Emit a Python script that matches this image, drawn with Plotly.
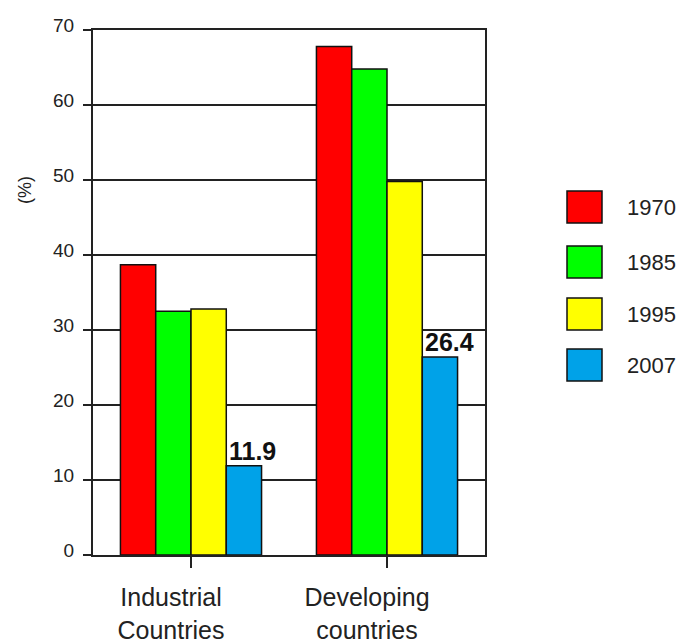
import plotly.graph_objects as go

# Share of population (%) by country group and year
categories = ["Industrial<br>Countries", "Developing<br>countries"]
years = ["1970", "1985", "1995", "2007"]
values_1970 = [38.7, 67.8]
values_1985 = [32.5, 64.8]
values_1995 = [32.8, 49.8]
values_2007 = [11.9, 26.4]
series = [values_1970, values_1985, values_1995, values_2007]
colors = ["#ff0000", "#00ff00", "#ffff00", "#00a2e8"]
y_ticks = [0, 10, 20, 30, 40, 50, 60, 70]
labelled_year = "2007"

W, H = 683, 644
L, R, T, B = 93, 485, 30, 555          # plot area in pixels
BARGAP = 0.28
FONT = "Liberation Sans, Arial, sans-serif"
INK = "#222222"


def px_x(px):
    return (px - L) / (R - L)


def px_y(py):
    return (B - py) / (B - T)


fig = go.Figure()
for name, vals, col in zip(years, series, colors):
    fig.add_trace(go.Bar(
        x=list(range(len(categories))), y=vals, name=name,
        marker=dict(color=col, line=dict(color="#111111", width=1.5)),
        showlegend=False,
    ))

# value labels above the last series' bars, left-aligned on the bar
bar_w = (1 - BARGAP) / len(years)
k = years.index(labelled_year)
for i, v in enumerate(series[k]):
    left = i - (1 - BARGAP) / 2 + k * bar_w
    fig.add_annotation(
        x=left, y=v, text=f"<b>{v}</b>", showarrow=False,
        xanchor="left", yanchor="bottom", xshift=1, yshift=-1,
        font=dict(family=FONT, size=25, color="#111111"),
    )

# legend: large outlined squares with year labels
legend_rows = [207, 262, 314, 365]
for name, col, cy in zip(years, colors, legend_rows):
    fig.add_shape(
        type="rect", xref="paper", yref="paper",
        x0=px_x(567), x1=px_x(602), y0=px_y(cy + 16), y1=px_y(cy - 16),
        fillcolor=col, line=dict(color="#111111", width=1.5),
    )
    fig.add_annotation(
        xref="paper", yref="paper", x=px_x(625), y=px_y(cy),
        text=name, showarrow=False, xanchor="left", yanchor="middle",
        font=dict(family=FONT, size=22, color=INK),
    )

# y axis title
fig.add_annotation(
    xref="paper", yref="paper", x=px_x(25), y=px_y(190),
    text="(%)", showarrow=False, textangle=-90,
    xanchor="center", yanchor="middle",
    font=dict(family=FONT, size=18, color=INK),
)

fig.update_layout(
    width=W, height=H,
    margin=dict(l=L, r=W - R, t=T, b=H - B, pad=0, autoexpand=False),
    paper_bgcolor="white", plot_bgcolor="white",
    barmode="group", bargap=BARGAP, bargroupgap=0,
    showlegend=False,
    font=dict(family=FONT, color=INK),
)
fig.update_xaxes(
    tickmode="array", tickvals=list(range(len(categories))), ticktext=categories,
    range=[-0.5, len(categories) - 0.5], tickson="boundaries",
    showline=True, linecolor="#222222", linewidth=2, mirror=True,
    ticks="outside", ticklen=11, tickwidth=2, tickcolor="#222222",
    showgrid=False, zeroline=False, automargin=False,
    tickfont=dict(family=FONT, size=25, color=INK),
    ticklabelstandoff=8, ticklabelshift=-20,
)
fig.update_yaxes(
    range=[0, 70], tickvals=y_ticks,
    showline=True, linecolor="#222222", linewidth=2, mirror=True,
    ticks="outside", ticklen=8, tickwidth=2, tickcolor="#222222",
    showgrid=True, gridcolor="#222222", gridwidth=2, zeroline=False,
    automargin=False,
    tickfont=dict(family=FONT, size=19, color=INK),
    ticklabelstandoff=5, ticklabelshift=-5,
)

fig.write_html("out.html")
